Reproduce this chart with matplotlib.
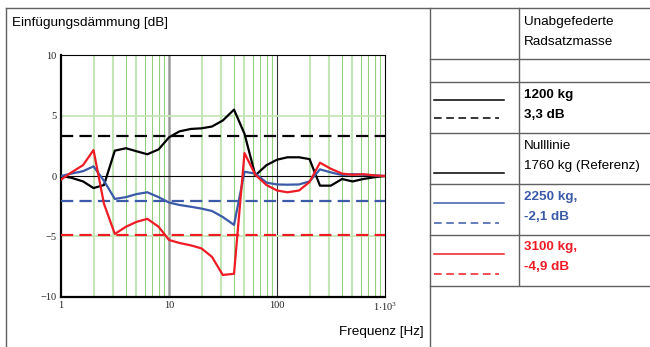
import matplotlib
matplotlib.use("Agg")
import matplotlib.pyplot as plt

plt.rcParams["mathtext.fontset"] = "custom"
plt.rcParams["mathtext.rm"] = "Liberation Serif"

# third-octave band centre frequencies [Hz]
freq = [1, 1.25, 1.6, 2, 2.5, 3.15, 4, 5, 6.3, 8, 10, 12.5, 16, 20, 25, 31.5,
        40, 50, 63, 80, 100, 125, 160, 200, 250, 315, 400, 500, 630, 800, 1000]

# insertion loss [dB] per unsprung mass
il_1200 = [0.0, -0.15, -0.45, -1.0, -0.75, 2.1, 2.3, 2.05, 1.8, 2.2, 3.2, 3.7, 3.9,
           3.95, 4.1, 4.6, 5.5, 3.5, 0.05, 0.9, 1.35, 1.55, 1.55, 1.4, -0.8, -0.8,
           -0.25, -0.45, -0.25, -0.1, 0.0]
il_2250 = [0.0, 0.2, 0.4, 0.8, -0.4, -1.9, -1.75, -1.5, -1.35, -1.75, -2.2, -2.4,
           -2.55, -2.7, -2.9, -3.4, -4.05, 0.35, 0.2, -0.55, -0.7, -0.72, -0.7,
           -0.45, 0.55, 0.3, 0.08, 0.15, 0.1, 0.05, 0.0]
il_3100 = [-0.3, 0.3, 0.9, 2.15, -2.3, -4.8, -4.2, -3.8, -3.55, -4.2, -5.3, -5.55,
           -5.75, -6.0, -6.7, -8.2, -8.1, 1.9, 0.1, -0.75, -1.2, -1.35, -1.2, -0.5,
           1.1, 0.6, 0.2, 0.1, 0.15, 0.05, 0.0]

# mean values (dashed lines)
mean_1200 = 3.3
mean_2250 = -2.1
mean_3100 = -4.9

x_ticks = [1, 10, 100, 1000]
x_ticklabels = ["1", "10", "100", r"$\mathregular{1{\cdot}10^3}$"]
y_ticks = [-10, -5, 0, 5, 10]

BLUE = "#3b5aa8"
RED = "#ee1c25"
GRID_DARK = "#92d07e"
GRID_LIGHT = "#c4e6b6"
TABLE = "#606060"

fig = plt.figure(figsize=(6.5, 3.47), dpi=100)

ax = fig.add_axes([61 / 650, 1 - 296.7 / 347, 324 / 650, 241.4 / 347])
ax.set_xscale("log")
ax.set_xlim(1, 1000)
ax.set_ylim(-10, 10)

# grid: minor decades in green, 10 and 100 in grey/black
for dec in [1, 10, 100]:
    for m in range(2, 10):
        light = m in (2, 3, 5)
        ax.axvline(dec * m, color=GRID_LIGHT if light else GRID_DARK,
                   lw=1.5 if light else 0.8, zorder=1)
ax.axvline(10, color="#9a9a9a", lw=1.8, zorder=1)
ax.axvline(100, color="#333333", lw=0.8, zorder=1)
for yv in (5, -5):
    ax.axhline(yv, color=GRID_LIGHT, lw=1.3, zorder=1)
ax.axhline(0, color="black", lw=0.8, zorder=2)

# mean lines
ax.axhline(mean_1200, color="black", lw=1.6, dashes=(5.5, 2.8), zorder=3)
ax.axhline(mean_2250, color=BLUE, lw=1.6, dashes=(5.5, 2.8), zorder=3)
ax.axhline(mean_3100, color=RED, lw=1.6, dashes=(5.5, 2.8), zorder=3)

# measured curves
ax.plot(freq, il_1200, color="black", lw=1.6, zorder=4)
ax.plot(freq, il_2250, color=BLUE, lw=1.6, zorder=4)
ax.plot(freq, il_3100, color=RED, lw=1.6, zorder=5)

for side in ("left", "bottom"):
    ax.spines[side].set_linewidth(1.6)
for side in ("top", "right"):
    ax.spines[side].set_linewidth(0.8)

ax.set_xticks(x_ticks)
ax.set_xticklabels(x_ticklabels)
ax.set_yticks(y_ticks)
ax.minorticks_off()
ax.tick_params(length=0, labelsize=7.5, pad=3, colors="#222222")
for lab in ax.get_xticklabels() + ax.get_yticklabels():
    lab.set_family("Liberation Serif")

# overlay for the table frame and texts (pixel coordinates)
ov = fig.add_axes([0, 0, 1, 1], zorder=-1)
ov.set_xlim(0, 650)
ov.set_ylim(347, 0)
ov.axis("off")

ov.plot([6, 6], [8, 347], color=TABLE, lw=1)
ov.plot([6, 650], [8, 8], color=TABLE, lw=1)
ov.plot([429.5, 429.5], [8, 347], color=TABLE, lw=1)
ov.plot([518.5, 518.5], [8, 285], color=TABLE, lw=1)
for yr in [58.5, 81.5, 132.5, 183.5, 234.5, 285.5]:
    ov.plot([429.5, 650], [yr, yr], color=TABLE, lw=1)

font = "Liberation Sans"
ov.text(12, 23, "Einfügungsdämmung [dB]", fontsize=9.7, family=font, va="center")
ov.text(424, 332, "Frequenz [Hz]", fontsize=9.7, family=font, va="center", ha="right")

ov.text(524, 22, "Unabgefederte", fontsize=9.7, family=font, va="center")
ov.text(524, 42, "Radsatzmasse", fontsize=9.7, family=font, va="center")

rows = [
    ("1200 kg", "3,3 dB", "black", True, 95, 100, 118),
    ("Nulllinie", "1760 kg (Referenz)", "black", False, 146, 173, None),
    ("2250 kg,", "-2,1 dB", BLUE, True, 197, 203, 223),
    ("3100 kg,", "-4,9 dB", RED, True, 247, 254, 274),
]
for t1, t2, col, bold, ytxt, ysolid, ydash in rows:
    w = "bold" if bold else "normal"
    ov.text(524, ytxt, t1, fontsize=9.7, family=font, color=col, weight=w, va="center")
    ov.text(524, ytxt + 20, t2, fontsize=9.7, family=font, color=col, weight=w, va="center")
    ov.plot([434, 504], [ysolid, ysolid], color=col, lw=1.1)
    if ydash is not None:
        ov.plot([434, 499], [ydash, ydash], color=col, lw=1.1, dashes=(5, 3))

fig.savefig("out.png", dpi=100)
